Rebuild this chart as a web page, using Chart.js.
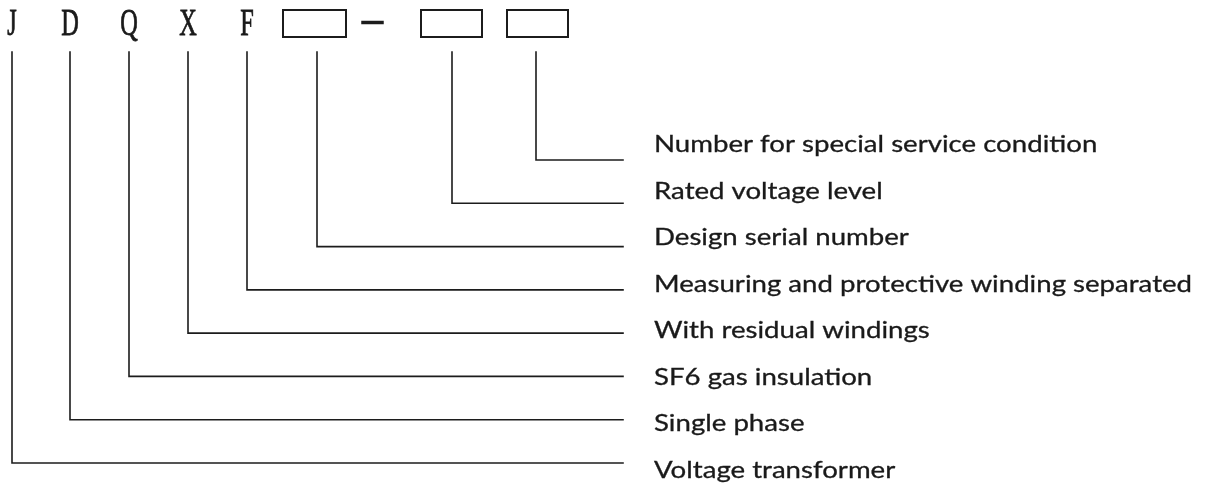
<!DOCTYPE html>
<html>
<head>
<meta charset="utf-8">
<script src="https://cdn.jsdelivr.net/npm/chart.js@4/dist/chart.umd.min.js"></script>
<style>
  html, body { margin: 0; padding: 0; background: #fff; }
  #wrap { width: 1211px; height: 486px; }
</style>
</head>
<body>
<div id="wrap"><canvas id="diagram"></canvas></div>
<script>
// model code letters and where their stems drop
const codeLetters = ['J', 'D', 'Q', 'X', 'F'];
const letterX = [12, 70, 129, 188, 247];
// blank boxes after the letters
const boxLeft = [283, 421, 507];
const boxRight = [346, 482, 568];
const boxTop = 10;
const boxBottom = 37;
// one stem per position, bottom one first
const stemX = [12, 70, 129, 188, 247, 317, 452, 536];
const levelY = [463, 419.7, 376.4, 333.1, 289.9, 246.6, 203.3, 160];
const descriptions = [
  'Voltage transformer',
  'Single phase',
  'SF6 gas insulation',
  'With residual windings',
  'Measuring and protective winding separated',
  'Design serial number',
  'Rated voltage level',
  'Number for special service condition'
];
const labelBaseline = [478, 431.4, 385, 338.3, 291.7, 245.1, 198.6, 152];
const stemTop = 52;
const lineEnd = 623;
const labelX = 654;

const ink = '#1c1c1c';

const datasets = stemX.map((x, i) => ({
  data: [{ x: x, y: stemTop }, { x: x, y: levelY[i] }, { x: lineEnd, y: levelY[i] }],
  borderColor: ink,
  borderWidth: 1.6
}));

boxLeft.forEach((l, i) => {
  const r = boxRight[i];
  datasets.push({
    data: [{ x: l, y: boxTop }, { x: r, y: boxTop }, { x: r, y: boxBottom }, { x: l, y: boxBottom }, { x: l, y: boxTop }],
    borderColor: ink,
    borderWidth: 2
  });
});

// the dash between the first box and the second
datasets.push({
  data: [{ x: 363, y: 22.5 }, { x: 382, y: 22.5 }],
  borderColor: ink,
  borderWidth: 3.5
});

const textPlugin = {
  id: 'diagramText',
  afterDatasetsDraw(chart) {
    const ctx = chart.ctx;
    const xs = chart.scales.x;
    const ys = chart.scales.y;
    ctx.save();
    ctx.fillStyle = '#1a1a1a';
    ctx.strokeStyle = '#1a1a1a';

    // letters: narrow serif, like SimSun
    ctx.font = '38px "Liberation Serif"';
    ctx.textAlign = 'center';
    ctx.textBaseline = 'alphabetic';
    ctx.lineWidth = 0.8;
    codeLetters.forEach((ch, i) => {
      ctx.save();
      ctx.translate(xs.getPixelForValue(letterX[i]), ys.getPixelForValue(35));
      ctx.scale(0.64, 1);
      ctx.fillText(ch, 0, 0);
      ctx.strokeText(ch, 0, 0);
      ctx.restore();
    });

    // descriptions, fitted to the reference width
    ctx.font = '23px Lato';
    ctx.textAlign = 'left';
    ctx.lineWidth = 0.3;
    const longest = ctx.measureText(descriptions[4]).width;
    const sx = 538 / longest;
    descriptions.forEach((txt, i) => {
      ctx.save();
      ctx.translate(xs.getPixelForValue(labelX), ys.getPixelForValue(labelBaseline[i]));
      ctx.scale(sx, 1);
      ctx.fillText(txt, 0, 0);
      ctx.strokeText(txt, 0, 0);
      ctx.restore();
    });
    ctx.restore();
  }
};

new Chart(document.getElementById('diagram'), {
  type: 'scatter',
  data: { datasets: datasets },
  options: {
    responsive: true,
    maintainAspectRatio: false,
    animation: false,
    layout: { padding: 0 },
    showLine: true,
    elements: {
      point: { radius: 0, hoverRadius: 0 },
      line: { tension: 0, fill: false, borderCapStyle: 'square' }
    },
    plugins: {
      legend: { display: false },
      tooltip: { enabled: false }
    },
    scales: {
      x: { type: 'linear', min: 0, max: 1211, display: false },
      y: { type: 'linear', min: 0, max: 486, reverse: true, display: false }
    }
  },
  plugins: [textPlugin]
});
</script>
</body>
</html>
